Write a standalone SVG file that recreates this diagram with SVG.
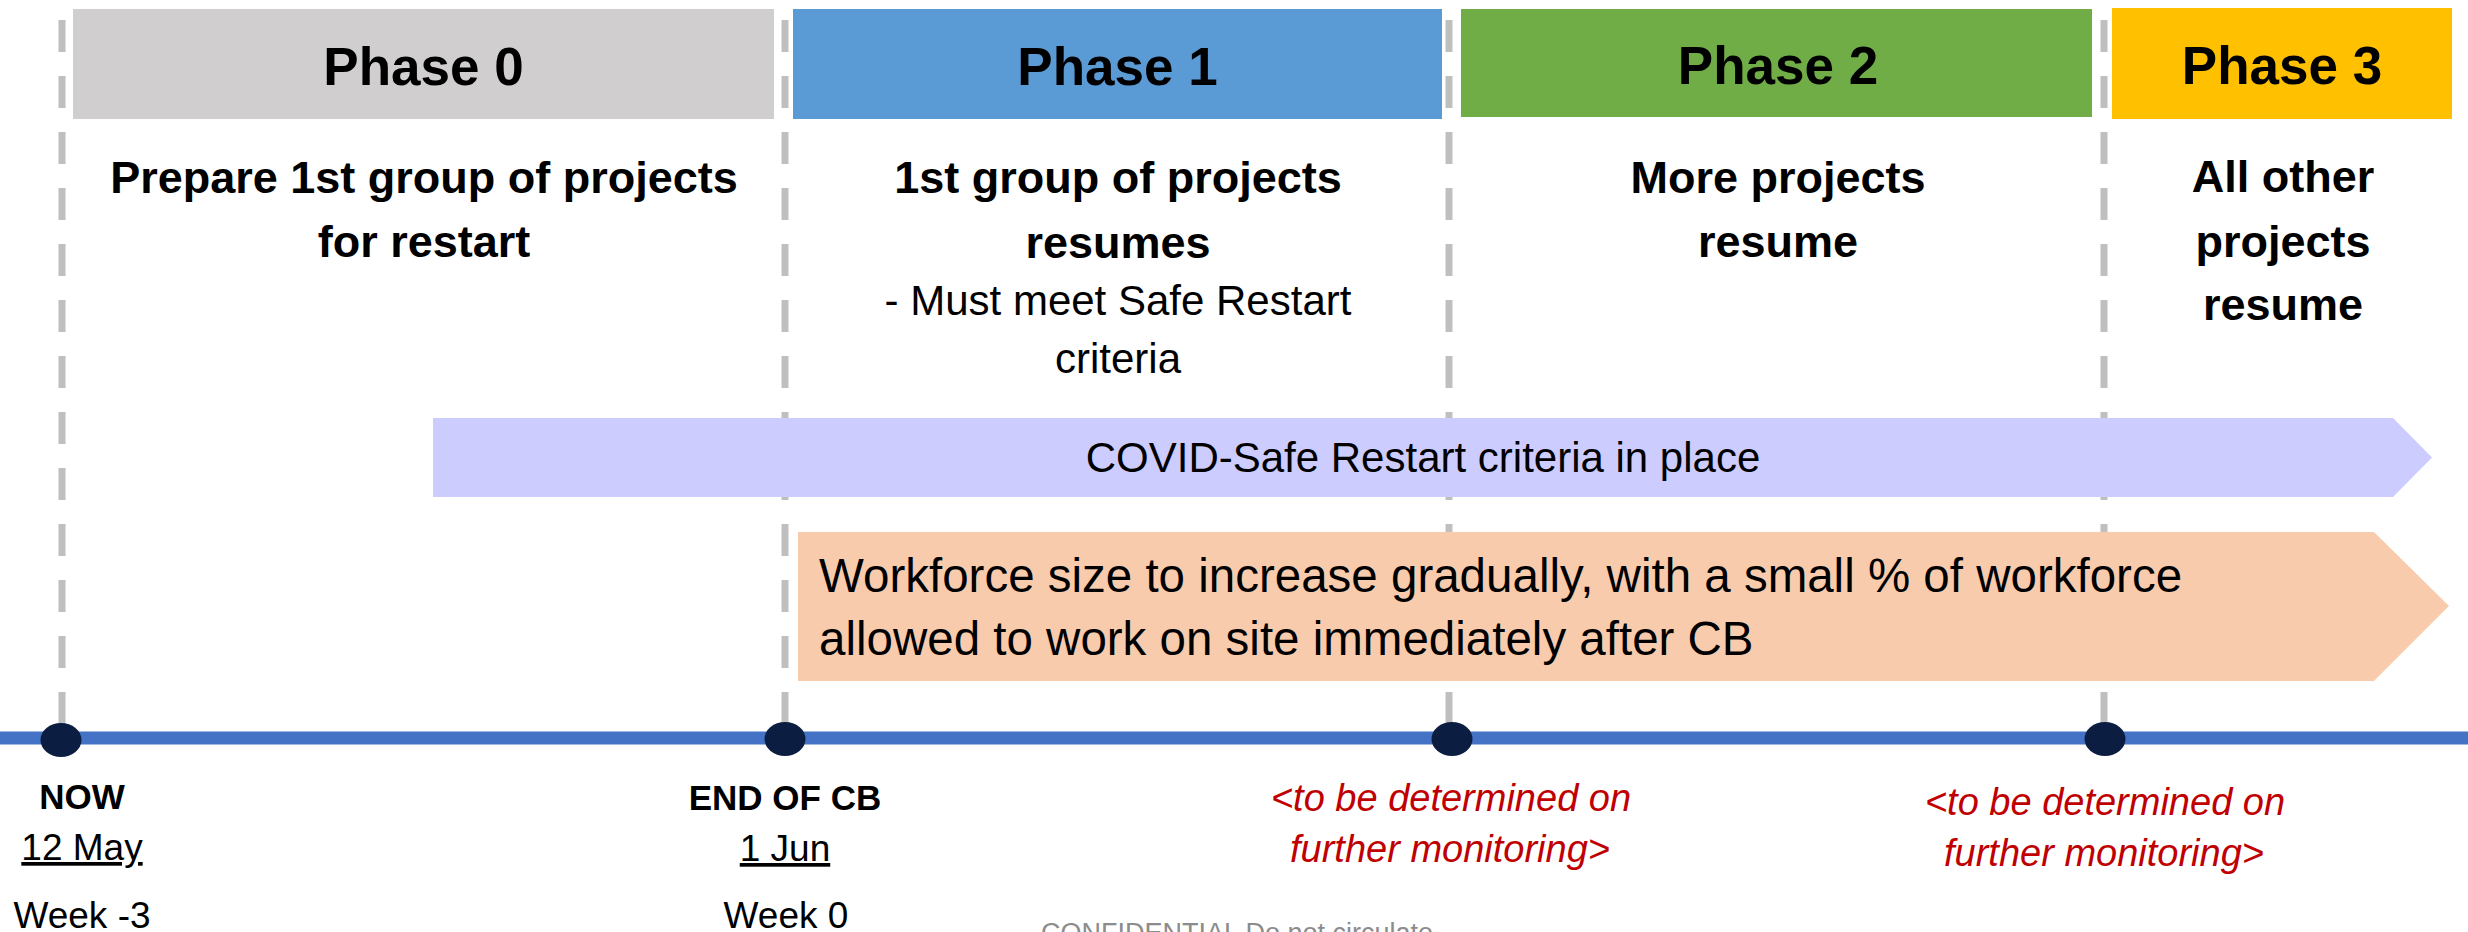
<svg xmlns="http://www.w3.org/2000/svg" width="2468" height="932" viewBox="0 0 2468 932">
  <style>
    text { font-family: "Liberation Sans", Arial, sans-serif; fill: #000; }
    .title { font-size: 53px; font-weight: bold; text-anchor: middle; }
    .body { font-size: 45px; font-weight: bold; text-anchor: middle; }
    .sub { font-size: 42px; text-anchor: middle; }
    .band { font-size: 42px; text-anchor: middle; }
    .wf { font-size: 47.5px; }
    .lblb { font-size: 35px; font-weight: bold; text-anchor: middle; }
    .lbl { font-size: 37px; text-anchor: middle; }
    .u { text-decoration: underline; }
    .tbd { font-size: 38px; font-style: italic; fill: #C00000; text-anchor: middle; }
    .conf { font-size: 27px; fill: #8C8C8C; }
    .dash { stroke: #BFBFBF; stroke-width: 7; stroke-dasharray: 32 24; fill: none; }
    .dot { fill: #0B1E42; }
  </style>

  <rect width="2468" height="932" fill="#FFFFFF"/>

  <g id="connectors">
    <line class="dash" x1="62" y1="20" x2="62" y2="738"/>
    <line class="dash" x1="785" y1="20" x2="785" y2="738"/>
    <line class="dash" x1="1449" y1="20" x2="1449" y2="738"/>
    <line class="dash" x1="2104" y1="20" x2="2104" y2="738"/>
    <line x1="0" y1="738" x2="2468" y2="738" stroke="#4472C4" stroke-width="13"/>
  </g>

  <g id="phase0">
    <rect x="73" y="9" width="701" height="110" fill="#D0CECE"/>
    <text class="title" x="423.5" y="85">Phase 0</text>
    <text class="body" x="424" y="193">Prepare 1st group of projects</text>
    <text class="body" x="424" y="257">for restart</text>
  </g>

  <g id="phase1">
    <rect x="793" y="9" width="649" height="110" fill="#5B9BD5"/>
    <text class="title" x="1117.5" y="85">Phase 1</text>
    <text class="body" x="1118" y="193">1st group of projects</text>
    <text class="body" x="1118" y="258">resumes</text>
    <text class="sub" x="1118" y="315">- Must meet Safe Restart</text>
    <text class="sub" x="1118" y="373">criteria</text>
  </g>

  <g id="phase2">
    <rect x="1461" y="9" width="631" height="108" fill="#70AD47"/>
    <text class="title" x="1778" y="84">Phase 2</text>
    <text class="body" x="1778" y="193">More projects</text>
    <text class="body" x="1778" y="257">resume</text>
  </g>

  <g id="phase3">
    <rect x="2112" y="8" width="340" height="111" fill="#FFC000"/>
    <text class="title" x="2282" y="84">Phase 3</text>
    <text class="body" x="2283" y="192">All other</text>
    <text class="body" x="2283" y="257">projects</text>
    <text class="body" x="2283" y="320">resume</text>
  </g>

  <g id="covid-band">
    <polygon points="433,418 2393,418 2432,457.5 2393,497 433,497" fill="#CCCCFF"/>
    <text class="band" x="1423" y="472">COVID-Safe Restart criteria in place</text>
  </g>

  <g id="workforce-band">
    <polygon points="798,532 2374,532 2449,606 2374,681 798,681" fill="#F8CBAD"/>
    <text class="wf" x="819" y="592">Workforce size to increase gradually, with a small % of workforce</text>
    <text class="wf" x="819" y="655">allowed to work on site immediately after CB</text>
  </g>

  <g id="milestone-now">
    <ellipse class="dot" cx="61" cy="740" rx="20.5" ry="17"/>
    <text class="lblb" x="82" y="809">NOW</text>
    <text class="lbl u" x="82" y="860">12 May</text>
    <text class="lbl" x="82" y="928">Week -3</text>
  </g>

  <g id="milestone-endcb">
    <ellipse class="dot" cx="785" cy="739" rx="20.5" ry="17"/>
    <text class="lblb" x="785" y="810">END OF CB</text>
    <text class="lbl u" x="785" y="861">1 Jun</text>
    <text class="lbl" x="786" y="928">Week 0</text>
  </g>

  <g id="milestone-phase2">
    <ellipse class="dot" cx="1452" cy="739" rx="20.5" ry="17"/>
    <text class="tbd" x="1451" y="811">&lt;to be determined on</text>
    <text class="tbd" x="1450" y="862">further monitoring&gt;</text>
  </g>

  <g id="milestone-phase3">
    <ellipse class="dot" cx="2105" cy="739" rx="20.5" ry="17"/>
    <text class="tbd" x="2105" y="815">&lt;to be determined on</text>
    <text class="tbd" x="2104" y="866">further monitoring&gt;</text>
  </g>

  <g id="footer">
    <text class="conf" x="1041" y="942">CONFIDENTIAL  Do not circulate</text>
  </g>
</svg>
